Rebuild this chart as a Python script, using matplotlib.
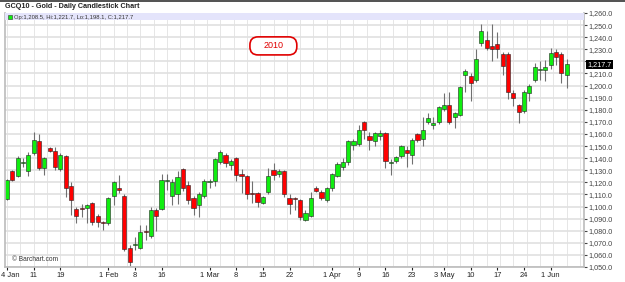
import matplotlib
matplotlib.use('Agg')
import matplotlib.pyplot as plt
import matplotlib.transforms as mtransforms
from matplotlib.patches import Rectangle, FancyBboxPatch
import numpy as np

plt.rcParams['font.family'] = ['Liberation Sans', 'DejaVu Sans']

# daily OHLC, GCQ10, 4 Jan - 4 Jun 2010
opens = [1106, 1129, 1125, 1136, 1129, 1144, 1154, 1132, 1148, 1146,
         1131, 1142, 1117, 1098, 1099, 1099, 1103, 1092, 1087, 1086,
         1109, 1115, 1109, 1066, 1068, 1066, 1080, 1076, 1097, 1098,
         1121, 1109, 1110, 1131, 1118, 1107, 1101, 1109, 1120, 1121,
         1137, 1143, 1134, 1140, 1127, 1125, 1111, 1111, 1103, 1112,
         1130, 1127, 1129, 1107, 1107, 1105, 1089, 1092, 1115, 1112,
         1105, 1115, 1125, 1133, 1137, 1151, 1152, 1170, 1158, 1154,
         1158, 1161, 1136, 1138, 1142, 1147, 1143, 1160, 1156, 1170,
         1167, 1170, 1181, 1184, 1174, 1176, 1209, 1208, 1205, 1235,
         1238, 1233, 1234, 1226, 1226, 1194, 1184, 1179, 1194, 1205,
         1213, 1213, 1217, 1228, 1226, 1208.5]
highs = [1123, 1130, 1142, 1140, 1145, 1162, 1160, 1141, 1149, 1149,
         1144, 1143, 1120, 1100, 1102, 1102, 1104, 1094, 1088, 1108,
         1121, 1126, 1110, 1068, 1075, 1085, 1085, 1100, 1099, 1127,
         1127, 1123, 1129, 1132, 1121, 1109, 1112, 1123, 1123, 1140,
         1147, 1144, 1139, 1141, 1131, 1126, 1121, 1112, 1109, 1132,
         1136, 1131, 1130, 1110, 1108, 1106, 1097, 1112, 1117, 1114,
         1116, 1128, 1137, 1140, 1155, 1156, 1167, 1171, 1162, 1162,
         1163, 1162, 1139, 1142, 1151, 1150, 1157, 1161, 1174, 1177,
         1174, 1183, 1194, 1195, 1178, 1200, 1214, 1210, 1230, 1251,
         1245, 1251, 1244, 1228, 1228, 1196, 1185, 1196, 1201, 1219,
         1220, 1221, 1231, 1230, 1228, 1221.7]
lows = [1105, 1121, 1124, 1133, 1125, 1143, 1130, 1126, 1145, 1130,
        1129, 1108, 1093, 1086, 1091, 1086, 1085, 1083, 1081, 1085,
        1101, 1111, 1063, 1051, 1064, 1065, 1072, 1074, 1080, 1097,
        1114, 1101, 1102, 1113, 1102, 1093, 1091, 1107, 1115, 1117,
        1135, 1133, 1130, 1121, 1111, 1106, 1103, 1100, 1102, 1110,
        1122, 1124, 1108, 1094, 1097, 1089, 1088, 1091, 1112, 1105,
        1104, 1113, 1124, 1130, 1134, 1147, 1150, 1156, 1147, 1150,
        1155, 1132, 1126, 1136, 1140, 1133, 1135, 1153, 1150, 1168,
        1164, 1168, 1179, 1168, 1165, 1175, 1195, 1187, 1203, 1233,
        1229, 1220, 1223, 1209, 1189, 1183, 1169, 1177, 1187, 1203,
        1205, 1204, 1214, 1217, 1202, 1198.1]
closes = [1122, 1122, 1140, 1137, 1143, 1155, 1132, 1140, 1146, 1133,
          1143, 1115, 1105, 1092, 1098, 1101, 1087, 1087, 1086, 1107,
          1120, 1114, 1065, 1054, 1069, 1079, 1079, 1097, 1092, 1122,
          1122, 1120, 1124, 1115, 1105, 1099, 1110, 1121, 1121, 1139,
          1145, 1136, 1138, 1126, 1125, 1110, 1110, 1104, 1108, 1125,
          1126, 1129, 1110, 1102, 1106, 1091, 1095, 1107, 1113, 1107,
          1115, 1127, 1135, 1137, 1154, 1154, 1163, 1163, 1155, 1161,
          1161, 1138, 1137, 1141, 1150, 1144, 1155, 1155, 1163, 1173,
          1169, 1182, 1184, 1170, 1177, 1199, 1212, 1202, 1222, 1245,
          1231, 1230, 1230, 1216, 1195, 1190, 1178, 1195, 1200, 1215,
          1214, 1215, 1227, 1224, 1210, 1217.7]

tick_pos = [0, 5, 10, 19, 24, 29, 38, 43, 48, 53, 61, 66, 71, 76, 82, 87, 92, 97, 102]
tick_labels = ['4 Jan', '11', '19', '1 Feb', '8', '16', '1 Mar', '8', '15', '22',
               '1 Apr', '9', '16', '23', '3 May', '10', '17', '24', '1 Jun']
price_ticks = list(range(1050, 1261, 10))

GREEN = '#10ee10'
RED = '#ff0000'

fig = plt.figure(figsize=(6.25, 2.82), dpi=100)
ax = fig.add_axes([5 / 625, 1 - 267 / 282, 579 / 625, 254 / 282])

x = np.arange(len(opens))
o, h, l, c = map(np.array, (opens, highs, lows, closes))
up = c >= o
cols = np.where(up, GREEN, RED)

# grid
for gx in np.arange(0, 109, 2.5):
    ax.axvline(gx, color='#e2e2e2', lw=0.6, zorder=0)
for p in price_ticks:
    ax.axhline(p, color='#e0e0e0', lw=1.2, zorder=0)

# wicks + bodies
ax.vlines(x, l, h, color='#707070', lw=0.8, zorder=1)
bottom = np.minimum(o, c)
height = np.maximum(np.abs(c - o), 0.6)
ax.bar(x, height, bottom=bottom, width=0.78, color=cols,
       edgecolor='#222222', linewidth=0.4, zorder=2)

ax.set_xlim(-0.375, 108.25)
ax.set_ylim(1050, 1260)

# lavender legend band across the top
ax.add_patch(Rectangle((0, 1 - 7.4 / 254), 1, 7.4 / 254, transform=ax.transAxes,
                       facecolor='#e4e4fb', edgecolor='none', zorder=3))
ax.add_patch(Rectangle((0.006, 0.977), 0.0055, 0.014, transform=ax.transAxes,
                       facecolor=GREEN, edgecolor='#333333', lw=0.4, zorder=4))
ax.text(0.016, 0.984,
        'Op:1,208.5, Hi:1,221.7, Lo:1,198.1, C:1,217.7',
        transform=ax.transAxes, fontsize=4.2, color='#333333', va='center', zorder=4)

ax.yaxis.tick_right()
ax.set_yticks(price_ticks)
# 1,220.0 sits under the last-price flag
ax.set_yticklabels(['' if p == 1220 else '{:,.1f}'.format(p) for p in price_ticks])
ax.tick_params(axis='y', labelsize=5.2, length=2, pad=1, colors='#444444')
ax.set_xticks(tick_pos)
ax.set_xticklabels(tick_labels)
ax.tick_params(axis='x', labelsize=5.4, length=2, pad=1.5, colors='#222222')
# keep "4 Jan" inside the picture
first = ax.get_xticklabels()[0]
first.set_horizontalalignment('left')
first.set_transform(first.get_transform() +
                    mtransforms.ScaledTranslation(-5.5 / 100, 0, fig.dpi_scale_trans))

ax.spines['top'].set_visible(False)
for side in ['left', 'right', 'bottom']:
    ax.spines[side].set_color('#bbbbbb')
    ax.spines[side].set_linewidth(1.2)

# last price flag
ax.text(1.006, closes[-1], '{:,.1f}'.format(closes[-1]), transform=ax.get_yaxis_transform(),
        fontsize=5.2, color='white', va='center', ha='left',
        bbox=dict(boxstyle='square,pad=0.15', facecolor='black', edgecolor='none'),
        zorder=5, clip_on=False)

# red "2010" tag
aspect = 579 / 254
ax.add_patch(FancyBboxPatch((0.423, 0.835), 0.081, 0.071, transform=ax.transAxes,
                            boxstyle='round,pad=0,rounding_size=0.014',
                            mutation_aspect=aspect, facecolor='white',
                            edgecolor='#e00000', linewidth=1.2, zorder=4))
ax.text(0.4635, 0.871, '2010', transform=ax.transAxes, fontsize=6.5, color='#e00000',
        ha='center', va='center', zorder=5)
ax.text(0.012, 0.03, '© Barchart.com', transform=ax.transAxes, fontsize=4.8,
        color='#333333', va='center')

fig.text(5 / 625, 1 - 6 / 282, 'GCQ10 - Gold - Daily Candlestick Chart',
         fontsize=5.2, fontweight='bold', color='#222222', va='center')
fig.add_artist(plt.Line2D([0, 1], [0.998, 0.998], transform=fig.transFigure,
                          color='#333333', lw=1.2))

fig.savefig('out.png', dpi=100)
